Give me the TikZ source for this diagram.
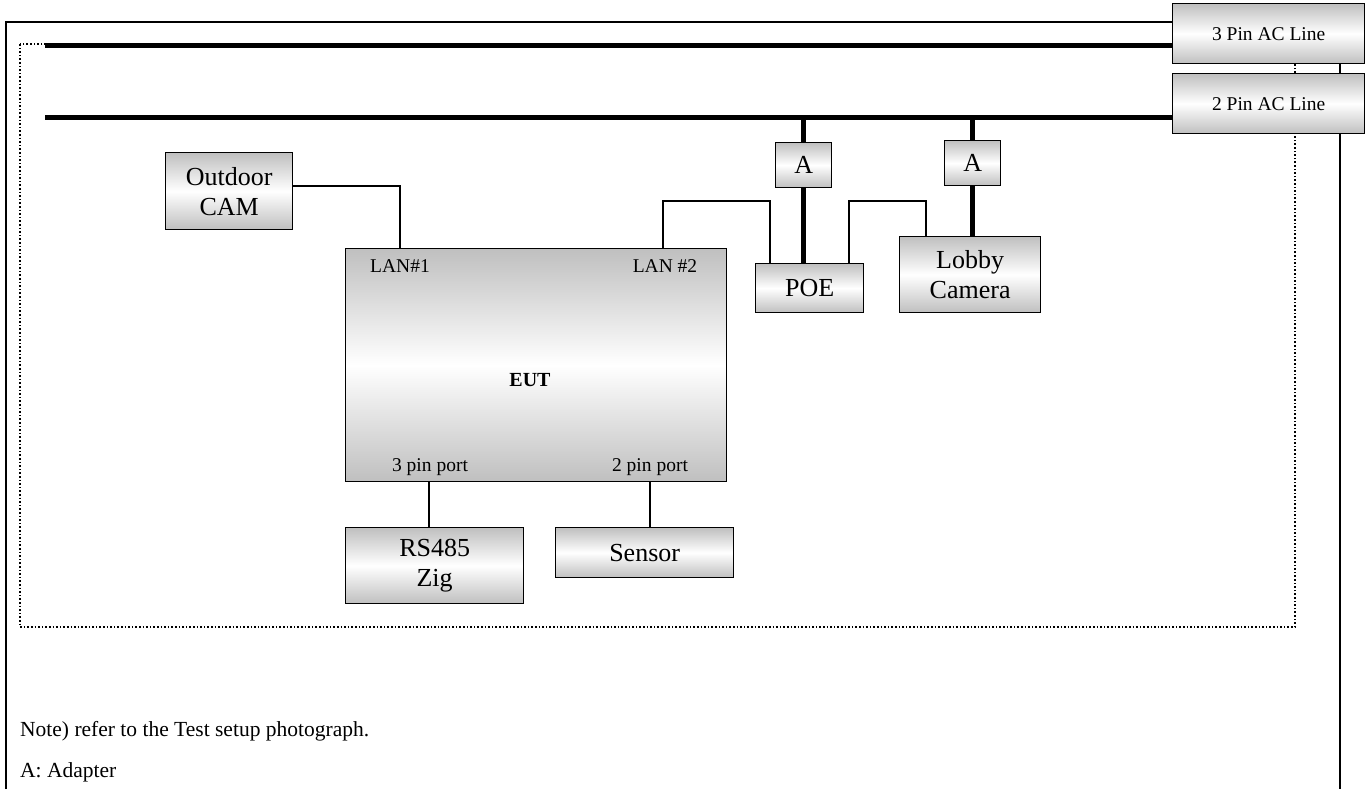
\documentclass[tikz,border=0pt]{standalone}
\usepackage{fontspec}
\setmainfont{Liberation Serif}
\begin{document}
\begin{tikzpicture}[x=1pt,y=-1pt,
  box/.style={draw, line width=1.3pt, top color=gray!50, bottom color=gray!50, middle color=white,
    anchor=north west, inner sep=0pt, align=center, font=\fontsize{26}{30}\selectfont},
  lbl/.style={font=\fontsize{19.5}{22}\selectfont, inner sep=0pt},
  wire/.style={line width=1.3pt},
  power/.style={line width=5.5pt},
  frame/.style={line width=1.8pt},
  note/.style={font=\fontsize{21.5}{25}\selectfont, anchor=base west, inner sep=0pt}]
\useasboundingbox (0,0) rectangle (1372,789);
% outer frame
\draw[frame] (6,789) -- (6,22) -- (1340,22) -- (1340,789);
% dotted boundary
\draw[line width=1.6pt, dotted] (20,44) rectangle (1295,627);
% AC line boxes
\node[box, minimum width=192, minimum height=60, font=\fontsize{19.5}{22}\selectfont] (ac3) at (1172,3) {3 Pin AC Line};
\node[box, minimum width=192, minimum height=60, font=\fontsize{19.5}{22}\selectfont] (ac2) at (1172,73) {2 Pin AC Line};
% buses
\coordinate (s3) at (45,45.5);
\coordinate (s2) at (45,117.5);
\draw[power] (s3) -- (s3 -| ac3.west);
\draw[power] (s2) -- (s2 -| ac2.west);
% devices
\node[box, minimum width=127, minimum height=77] (cam) at (165,152) {Outdoor\\CAM};
\node[box, minimum width=381, minimum height=233] (eut) at (345,248) {};
\node[box, minimum width=56, minimum height=45] (a1) at (775,142) {A};
\node[box, minimum width=56, minimum height=45] (a2) at (944,140) {A};
\node[box, minimum width=108, minimum height=49] (poe) at (755,263) {POE};
\node[box, minimum width=141, minimum height=76] (lobby) at (899,236) {Lobby\\Camera};
\node[box, minimum width=178, minimum height=76] (rs) at (345,527) {RS485\\Zig};
\node[box, minimum width=178, minimum height=50] (sensor) at (555,527) {Sensor};
% EUT labels
\node[lbl] (lan1) at (400,266) {LAN\#1};
\node[lbl] (lan2) at (665,266) {LAN \#2};
\node[lbl, font=\fontsize{20}{24}\selectfont\bfseries] (eutl) at (530,380) {EUT};
\node[lbl] (p3) at (430,467) {3 pin port};
\node[lbl] (p2) at (650,467) {2 pin port};
% power drops
\coordinate (b1) at (a1.north |- s2);
\coordinate (b2) at (a2.north |- s2);
\draw[power] (b1) -- (a1.north);
\draw[power] (a1.south) -- (a1.south |- poe.north);
\draw[power] (b2) -- (a2.north);
\draw[power] (a2.south) -- (a2.south |- lobby.north);
% wires
\draw[wire] (cam.east |- 0,186) -| (400,0 |- eut.north);
\draw[wire] (663,0 |- eut.north) |- (770,201) -- (770,0 |- poe.north);
\draw[wire] (849,0 |- poe.north) |- (926,201) -- (926,0 |- lobby.north);
\draw[wire] (429,0 |- eut.south) -- (429,0 |- rs.north);
\draw[wire] (650,0 |- eut.south) -- (650,0 |- sensor.north);
% notes
\node[note] (n1) at (20,736) {Note) refer to the Test setup photograph.};
\node[note] (n2) at (20,777) {A: Adapter};
\end{tikzpicture}
\end{document}
